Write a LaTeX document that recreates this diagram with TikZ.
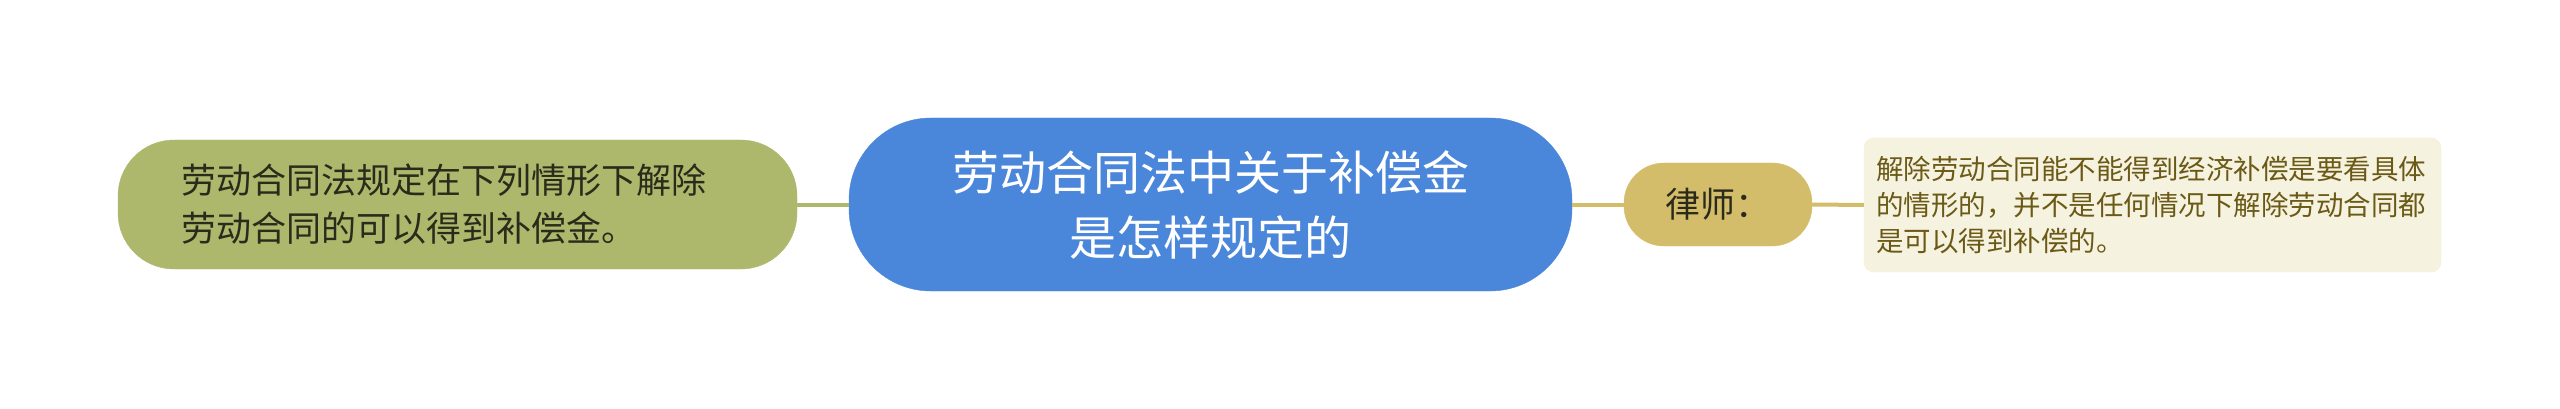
\documentclass[tikz,border=0pt]{standalone}
\usepackage{fontspec}
\setmainfont{Noto Sans CJK SC}
\definecolor{greenfill}{HTML}{ADB86C}
\definecolor{bluefill}{HTML}{4A86DA}
\definecolor{goldfill}{HTML}{D4BD6A}
\definecolor{notefill}{HTML}{F6F2E0}
\definecolor{notetext}{HTML}{6B5A16}
\definecolor{darktext}{HTML}{2B2B1B}
\tikzset{
  topic/.style={fill=bluefill, draw=bluefill, rounded corners=82pt, minimum width=723pt, minimum height=173pt, inner sep=0pt, align=center, text=white, font=\fontsize{47pt}{65pt}\selectfont},
  subleft/.style={fill=greenfill, draw=greenfill, rounded corners=56pt, minimum width=679pt, minimum height=129pt, inner sep=0pt, align=left, text width=552pt, text=darktext, font=\fontsize{35pt}{48pt}\selectfont},
  subright/.style={fill=goldfill, draw=goldfill, rounded corners=40pt, minimum width=188pt, minimum height=83pt, inner sep=0pt, text=darktext, font=\fontsize{35pt}{42pt}\selectfont},
  notebox/.style={fill=notefill, draw=notefill!90!goldfill, rounded corners=10pt, minimum width=577pt, minimum height=134pt, inner sep=0pt, align=left, text width=553pt, text=notetext, font=\fontsize{27.5pt}{36pt}\selectfont},
  greenlink/.style={draw=greenfill, line width=4pt},
  goldlink/.style={draw=goldfill, line width=4pt}
}
\begin{document}
\begin{tikzpicture}
\path[use as bounding box] (0pt,0pt) rectangle (2560pt,-409pt);
\node[topic] (main) at (1210.5pt,-204.5pt) {劳动合同法中关于补偿金\\是怎样规定的};
\node[subleft] (left) at (457.5pt,-204.5pt) {劳动合同法规定在下列情形下解除\\劳动合同的可以得到补偿金。};
\node[subright] (lawyer) at (1718pt,-204.5pt) {律师：};
\node[notebox] (note) at (2152.5pt,-205pt) {解除劳动合同能不能得到经济补偿是要看具体\\的情形的，并不是任何情况下解除劳动合同都\\是可以得到补偿的。};
\draw[greenlink] (left.east) -- (main.west);
\draw[goldlink] (main.east) -- (lawyer.west);
\draw[goldlink] (lawyer.east) -- (note.west);
\end{tikzpicture}
\end{document}
